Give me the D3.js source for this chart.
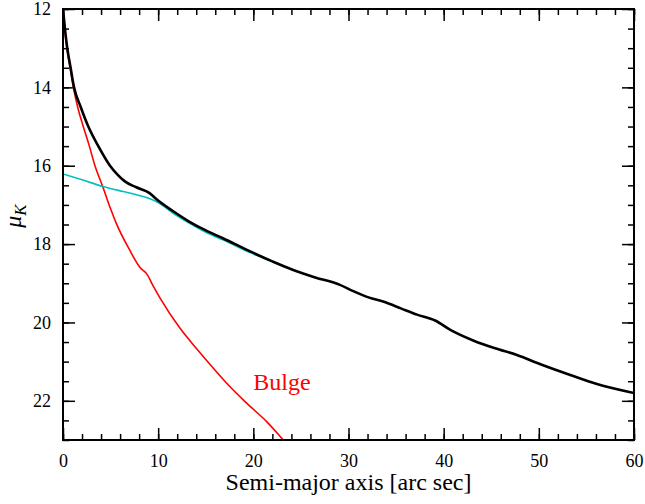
<!DOCTYPE html>
<html>
<head>
<meta charset="utf-8">
<script src="https://cdn.jsdelivr.net/npm/d3@7"></script>
<style>
  html, body { margin: 0; padding: 0; background: #fff; }
  svg { display: block; }
  text { font-family: "Liberation Serif", "Times New Roman", serif; }
</style>
</head>
<body>
<svg id="chart" width="645" height="504"></svg>
<script>
// ---- data (semi-major axis [arcsec], mu_K) ----
const totalX = [0, 0.2, 0.45, 0.8, 1.16, 1.86, 2.66, 3.71, 4.94, 5.7, 6.5, 7.7, 9.1, 9.8, 11.5, 13.3, 15.0, 16.8, 19.6, 22.0, 24.2, 26.5, 29.1, 30.5, 32.1, 33.8, 35.5, 37.2, 39.1, 40.7, 43.1, 45.4, 47.7, 50.1, 53.3, 56.1, 60.0];
const totalY = [12.0, 12.5, 13.0, 13.5, 14.0, 14.5, 15.0, 15.5, 16.0, 16.22, 16.4, 16.55, 16.7, 16.85, 17.15, 17.43, 17.65, 17.85, 18.18, 18.44, 18.66, 18.85, 19.04, 19.2, 19.36, 19.48, 19.64, 19.8, 19.95, 20.19, 20.46, 20.66, 20.83, 21.06, 21.34, 21.57, 21.8];

const diskX = [0, 2.0, 4.2, 6.33, 7.7, 9.0, 10.0, 11.5, 13.3, 15.0, 16.8, 19.6, 22.0, 24.2];
const diskY = [16.21, 16.36, 16.53, 16.66, 16.74, 16.83, 16.94, 17.2, 17.47, 17.7, 17.89, 18.21, 18.45, 18.67];

const bulgeX = [0, 0.4, 0.75, 1.09, 1.54, 2.13, 2.77, 3.36, 4.17, 5.0, 5.6, 7.0, 8.1, 8.8, 9.5, 10.2, 12.3, 14.0, 15.8, 17.5, 19.3, 21.4, 23.15];
const bulgeY = [12.0, 13.0, 13.5, 14.0, 14.5, 15.0, 15.5, 16.0, 16.53, 17.1, 17.47, 18.15, 18.6, 18.76, 19.08, 19.38, 20.15, 20.66, 21.17, 21.63, 22.06, 22.53, 23.0];

const xMajorTicks = [0, 10, 20, 30, 40, 50, 60];
const yMajorTicks = [12, 14, 16, 18, 20, 22];
const xLabel = "Semi-major axis [arc sec]";
const bulgeLabel = "Bulge";
const bulgeLabelPos = [20.0, 21.72];

// ---- layout ----
const svg = d3.select("#chart");
const L = 63, R = 634, T = 9, B = 440;
const x = d3.scaleLinear().domain([0, 60]).range([L, R]);
const y = d3.scaleLinear().domain([12, 23]).range([T, B]);

const xMinor = d3.range(0, 60.001, 2);
const yMinor = d3.range(12, 23.001, 0.5);
const FONT = "Liberation Serif, Times New Roman, serif";

function styleAxis(g) {
  g.attr("font-family", FONT).attr("font-size", 18);
  g.select(".domain").remove();
  g.selectAll(".tick line").attr("stroke", "#000").attr("stroke-width", 1.5);
  g.selectAll(".tick text").attr("fill", "#000")
    .attr("font-family", FONT).attr("font-size", 18);
}

// bottom
svg.append("g").attr("transform", `translate(0,${B})`)
  .call(d3.axisBottom(x).tickValues(xMinor).tickSize(-6).tickFormat("")).call(styleAxis);
svg.append("g").attr("transform", `translate(0,${B})`)
  .call(d3.axisBottom(x).tickValues(xMajorTicks).tickSize(-12).tickPadding(14).tickFormat(d3.format("d"))).call(styleAxis);
// top
svg.append("g").attr("transform", `translate(0,${T})`)
  .call(d3.axisTop(x).tickValues(xMinor).tickSize(-6).tickFormat("")).call(styleAxis);
svg.append("g").attr("transform", `translate(0,${T})`)
  .call(d3.axisTop(x).tickValues(xMajorTicks).tickSize(-12).tickFormat("")).call(styleAxis);
// left
svg.append("g").attr("transform", `translate(${L},0)`)
  .call(d3.axisLeft(y).tickValues(yMinor).tickSize(-6).tickFormat("")).call(styleAxis);
svg.append("g").attr("transform", `translate(${L},0)`)
  .call(d3.axisLeft(y).tickValues(yMajorTicks).tickSize(-12).tickPadding(12).tickFormat(d3.format("d"))).call(styleAxis);
// right
svg.append("g").attr("transform", `translate(${R},0)`)
  .call(d3.axisRight(y).tickValues(yMinor).tickSize(-6).tickFormat("")).call(styleAxis);
svg.append("g").attr("transform", `translate(${R},0)`)
  .call(d3.axisRight(y).tickValues(yMajorTicks).tickSize(-12).tickFormat("")).call(styleAxis);

// clip
svg.append("clipPath").attr("id", "clip").append("rect")
  .attr("x", L).attr("y", T).attr("width", R - L).attr("height", B - T);

const line = d3.line().x(d => x(d[0])).y(d => y(d[1])).curve(d3.curveMonotoneX);
const plot = svg.append("g").attr("clip-path", "url(#clip)");

plot.append("path").datum(bulgeX.map((v, i) => [v, bulgeY[i]]))
  .attr("d", line).attr("fill", "none").attr("stroke", "#ff0000").attr("stroke-width", 1.6);
plot.append("path").datum(diskX.map((v, i) => [v, diskY[i]]))
  .attr("d", line).attr("fill", "none").attr("stroke", "#00c0c0").attr("stroke-width", 1.6);
plot.append("path").datum(totalX.map((v, i) => [v, totalY[i]]))
  .attr("d", line).attr("fill", "none").attr("stroke", "#000").attr("stroke-width", 2.6);

// frame
svg.append("rect").attr("x", L).attr("y", T).attr("width", R - L).attr("height", B - T)
  .attr("fill", "none").attr("stroke", "#000").attr("stroke-width", 2);

// bulge label
svg.append("text").attr("x", x(bulgeLabelPos[0])).attr("y", y(bulgeLabelPos[1]))
  .attr("fill", "#ff0000").style("font-size", "24px").text(bulgeLabel);

// x label
svg.append("text").attr("x", (L + R) / 2).attr("y", 490).attr("text-anchor", "middle")
  .style("font-size", "24px").attr("fill", "#000").text(xLabel);

// y label: mu_K
const yl = svg.append("text").attr("transform", `translate(21,216) rotate(-90)`)
  .attr("text-anchor", "middle").attr("fill", "#000");
yl.append("tspan").style("font-size", "24px").style("font-style", "italic").text("μ");
yl.append("tspan").attr("dy", 5).style("font-size", "17px").style("font-style", "italic").text("K");
</script>
</body>
</html>
